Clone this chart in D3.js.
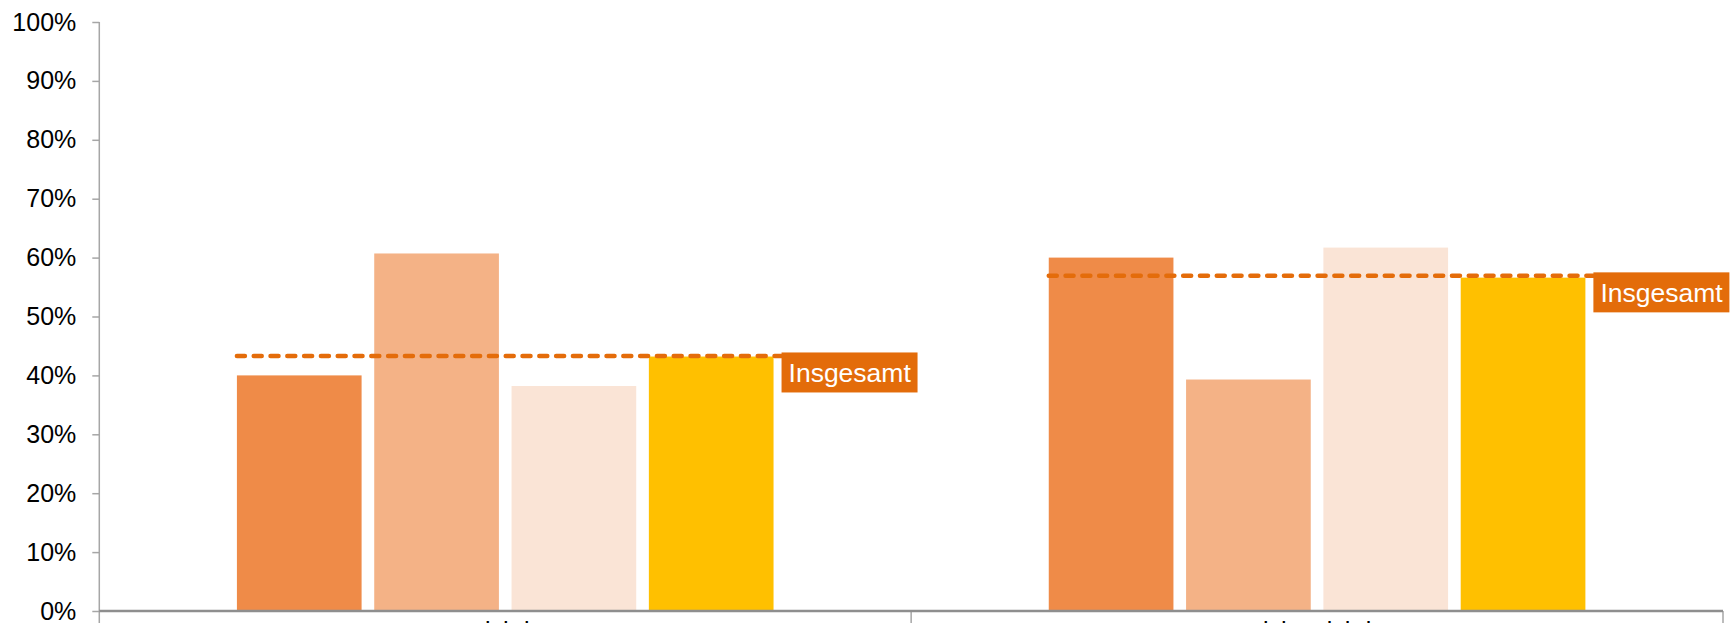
<!DOCTYPE html>
<html>
<head>
<meta charset="utf-8">
<script src="https://cdn.jsdelivr.net/npm/d3@7"></script>
<style>
  body { margin: 0; background: #fff; overflow: hidden; }
  svg { display: block; font-family: "Liberation Sans", Arial, sans-serif; }
</style>
</head>
<body>
<script>
// Values (percent)
var categories = ["wichtig", "nicht wichtig"];
var series_names = ["Gruppe 1", "Gruppe 2", "Gruppe 3", "Gruppe 4"];
var series_values = [
    [40.0, 60.0],
    [60.7, 39.3],
    [38.2, 61.7],
    [43.2, 56.6]
];
var series_colors = ["#EF8B48", "#F4B286", "#FAE4D6", "#FFC000"];
var total_values = [43.3, 56.9];
var total_label = "Insgesamt";
var y_ticks = [0, 10, 20, 30, 40, 50, 60, 70, 80, 90, 100];

var width = 1730, height = 623;
var plot = {left: 99.3, right: 1723, top: 22, bottom: 611};

var svg = d3.select("body").append("svg")
        .attr("width", width)
        .attr("height", height);

var x0 = d3.scaleBand().domain(categories).range([plot.left, plot.right]);
var bw = x0.bandwidth();
var x1 = d3.scaleBand().domain(series_names)
        .range([bw * 0.1695, bw * (1 - 0.1695)])
        .paddingInner(0.092);
var y = d3.scaleLinear().domain([0, 100]).range([plot.bottom, plot.top]);

// y axis
var y_axis = svg.append("g")
        .attr("transform", "translate(" + plot.left + ",0)")
        .call(d3.axisLeft(y).tickValues(y_ticks)
              .tickFormat(function(d) { return d + "%"; })
              .tickSize(7).tickPadding(16));
y_axis.select(".domain").remove();
y_axis.selectAll("line").attr("stroke", "#a6a6a6").attr("stroke-width", 1.5);
y_axis.selectAll("text").attr("font-size", 25).attr("fill", "#000")
        .attr("font-family", "Liberation Sans, Arial, sans-serif");
svg.append("line")
        .attr("x1", plot.left).attr("x2", plot.left)
        .attr("y1", y(100)).attr("y2", height)
        .attr("stroke", "#a6a6a6").attr("stroke-width", 1.5);

// bars
var groups = svg.append("g").selectAll("g")
        .data(categories).enter().append("g")
        .attr("transform", function(c) { return "translate(" + x0(c) + ",0)"; });
groups.selectAll("rect")
        .data(function(c, ci) {
            return series_names.map(function(s, si) {
                return {series: s, index: si, value: series_values[si][ci]};
            });
        })
        .enter().append("rect")
        .attr("x", function(d) { return x1(d.series); })
        .attr("y", function(d) { return y(d.value); })
        .attr("width", x1.bandwidth())
        .attr("height", function(d) { return y(0) - y(d.value); })
        .attr("fill", function(d) { return series_colors[d.index]; });

// category boundaries and baseline
var bounds = categories.map(function(c) { return x0(c); }).concat([plot.right]);
svg.append("g").selectAll("line")
        .data(bounds.slice(1)).enter().append("line")
        .attr("x1", function(d) { return d; }).attr("x2", function(d) { return d; })
        .attr("y1", plot.bottom).attr("y2", height)
        .attr("stroke", "#a6a6a6").attr("stroke-width", 1.5);
svg.append("line")
        .attr("x1", plot.left).attr("x2", plot.right)
        .attr("y1", y(0)).attr("y2", y(0))
        .attr("stroke", "#8e8e8e").attr("stroke-width", 2.5);

// category labels (the reference crops them at the bottom edge)
svg.append("g").selectAll("text")
        .data(categories).enter().append("text")
        .attr("x", function(c) { return x0(c) + bw / 2; })
        .attr("y", plot.bottom + 29)
        .attr("text-anchor", "middle")
        .attr("font-size", 25)
        .attr("fill", "#000")
        .text(function(c) { return c; });

// Insgesamt dashed lines and labels
var last = series_names[series_names.length - 1];
var totals = svg.append("g").selectAll("g")
        .data(categories).enter().append("g");
totals.append("line")
        .attr("x1", function(c) { return x0(c) + x1(series_names[0]); })
        .attr("x2", function(c) { return x0(c) + x1(last) + x1.bandwidth() + 8; })
        .attr("y1", function(c, i) { return y(total_values[i]); })
        .attr("y2", function(c, i) { return y(total_values[i]); })
        .attr("stroke", "#E46C0A")
        .attr("stroke-width", 4.5)
        .attr("stroke-linecap", "round")
        .attr("stroke-dasharray", "8 8.8");
totals.append("rect")
        .attr("x", function(c) { return x0(c) + x1(last) + x1.bandwidth() + 8; })
        .attr("y", function(c, i) { return y(total_values[i]) - 3.5; })
        .attr("width", 136)
        .attr("height", 40)
        .attr("fill", "#E36C0A");
totals.append("text")
        .attr("x", function(c) { return x0(c) + x1(last) + x1.bandwidth() + 15; })
        .attr("y", function(c, i) { return y(total_values[i]) - 3.5 + 20; })
        .attr("dy", "0.35em")
        .attr("font-size", 26.5)
        .attr("fill", "#fff")
        .text(total_label);
</script>
</body>
</html>
